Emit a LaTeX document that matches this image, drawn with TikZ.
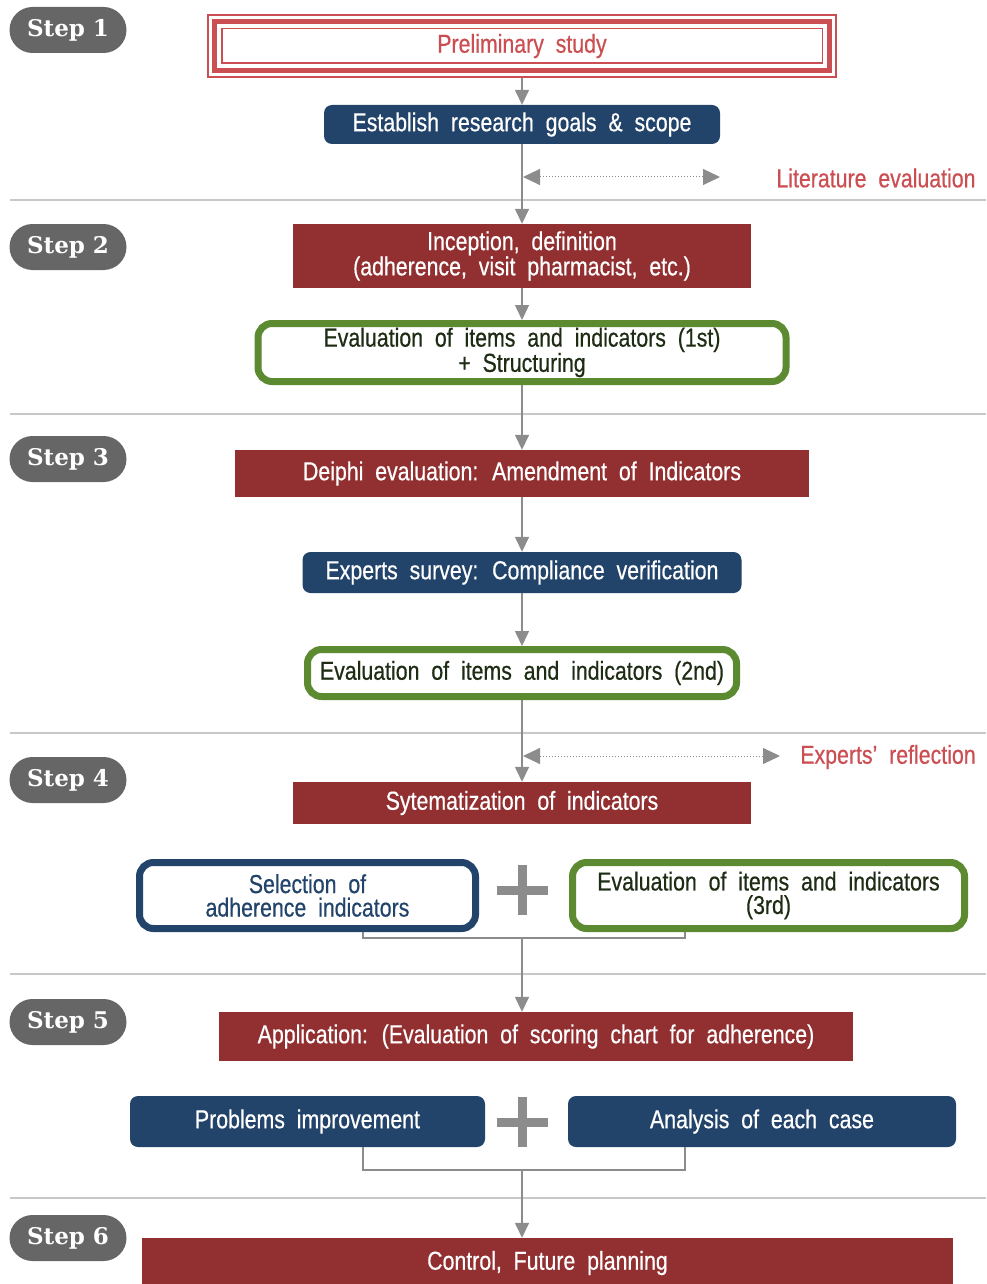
\documentclass[tikz,border=0pt]{standalone}
\usepackage{fontspec}
\setmainfont{Liberation Sans}[FakeStretch=0.82,WordSpace=2,FakeBold=0.5]
\newfontfamily\stepfont{DejaVu Serif}
\usetikzlibrary{arrows.meta,calc}

\definecolor{navy}{HTML}{22436A}
\definecolor{darkred}{HTML}{922F31}
\definecolor{leafgreen}{HTML}{5B8A31}
\definecolor{rosered}{HTML}{CB4F52}
\definecolor{arrowgray}{HTML}{8C8C8C}
\definecolor{sepgray}{HTML}{C8C8C8}
\definecolor{badgegray}{HTML}{666666}
\definecolor{inkgreen}{HTML}{1E2C14}

\tikzset{
  boxtext/.style={font=\fontsize{26}{23.5}\selectfont, align=center, inner sep=0pt},
  stepbadge/.style={fill=badgegray, rounded corners=23pt, minimum width=117pt, minimum height=46pt,
    text=white, font=\stepfont\bfseries\fontsize{23}{23}\selectfont},
  redbox/.style={boxtext, fill=darkred, text=white},
  navybox/.style={boxtext, fill=navy, text=white, rounded corners=8pt},
  greenbox/.style={boxtext, draw=leafgreen, line width=7pt, fill=white, text=inkgreen, rounded corners=14pt},
  navyframe/.style={boxtext, draw=navy, line width=7pt, fill=white, text=navy, rounded corners=14pt},
  flow/.style={draw=arrowgray, line width=1.5pt, -{Triangle[width=14pt,length=15pt]}},
  link/.style={draw=arrowgray, line width=1.2pt},
  dotflow/.style={draw=arrowgray, line width=1pt, dotted,
    {Triangle[width=16pt,length=17pt]}-{Triangle[width=16pt,length=17pt]}},
  sideline/.style={font=\fontsize{26}{26}\selectfont, text=rosered},
  plussign/.style={draw=arrowgray, line width=9pt},
}

\begin{document}
\begin{tikzpicture}[x=1pt,y=1pt,yscale=-1]
\useasboundingbox (0,0) rectangle (986,1284);

% separators
\foreach \sy in {200,414,733,974,1198}
  \draw[sepgray, line width=1.2pt] (10,\sy) -- (986,\sy);

% step badges
\foreach \n/\y in {1/30,2/247,3/459,4/780,5/1022,6/1238}
  \node[stepbadge] (step\n) at (68,\y) {Step \n};

% step 1
\node[sideline, draw=rosered, line width=1.5pt, minimum width=628pt, minimum height=62pt] (prelim) at (522,46) {Preliminary study};
\draw[rosered, line width=5pt] ($(prelim.north west)+(7.5,7.5)$) rectangle ($(prelim.south east)+(-7.5,-7.5)$);
\draw[rosered, line width=1.5pt] ($(prelim.north west)+(14.5,14.5)$) rectangle ($(prelim.south east)+(-14.5,-14.5)$);
\node[navybox, minimum width=396pt, minimum height=39pt] (goals) at (522,124.5) {Establish research goals \& scope};
\coordinate (lit-l) at (523,177);
\coordinate (lit-r) at (720,177);
\node[sideline] (littext) at (876,178) {Literature evaluation};

% step 2
\node[redbox, minimum width=458pt, minimum height=64pt] (inception) at (522,256) {Inception, definition\\(adherence, visit pharmacist, etc.)};
\node[greenbox, minimum width=528pt, minimum height=58pt] (eval1) at (522,352.5) {Evaluation of items and indicators (1st)\\+ Structuring};

% step 3
\node[redbox, minimum width=574pt, minimum height=47pt] (delphi) at (522,473.5) {Deiphi evaluation: Amendment of Indicators};
\node[navybox, minimum width=439pt, minimum height=41pt] (survey) at (522,572.5) {Experts survey: Compliance verification};
\node[greenbox, minimum width=429pt, minimum height=47pt] (eval2) at (522,673) {Evaluation of items and indicators (2nd)};
\coordinate (ref-l) at (523,756);
\coordinate (ref-r) at (780,756);
\node[sideline] (reftext) at (888,757) {Experts’ reflection};

% step 4
\node[redbox, minimum width=458pt, minimum height=42pt] (system) at (522,803) {Sytematization of indicators};
\node[navyframe, minimum width=336pt, minimum height=66pt] (selection) at (307.5,895.5) {Selection of\\adherence indicators};
\node[greenbox, minimum width=392pt, minimum height=66pt] (eval3) at (768.5,895.5) {Evaluation of items and indicators\\(3rd)};
\coordinate (s4l) at (363,938);
\coordinate (s4r) at (685,938);
\coordinate (j4) at (522,938);

% step 5
\node[redbox, minimum width=634pt, minimum height=49pt] (application) at (536,1036.5) {Application: (Evaluation of scoring chart for adherence)};
\node[navybox, minimum width=355pt, minimum height=51pt] (problems) at (307.5,1121.5) {Problems improvement};
\node[navybox, minimum width=388pt, minimum height=51pt] (analysis) at (762,1121.5) {Analysis of each case};
\coordinate (s5l) at (363,1170);
\coordinate (s5r) at (685,1170);
\coordinate (j5) at (522,1170);

% step 6
\node[redbox, minimum width=811pt, minimum height=50pt] (control) at (547.5,1263) {Control, Future planning};

% plus signs
\foreach \py in {890,1122} {
  \draw[plussign] (497,\py) -- (548,\py);
  \draw[plussign] (522,\py-25) -- (522,\py+25);
}

% connectors
\draw[flow] (prelim.south) -- (goals.north);
\draw[flow] (goals.south) -- (inception.north);
\draw[dotflow] (lit-l) -- (lit-r);
\draw[flow] (inception.south) -- (eval1.north);
\draw[flow] (eval1.south) -- (delphi.north);
\draw[flow] (delphi.south) -- (survey.north);
\draw[flow] (survey.south) -- (eval2.north);
\draw[flow] (eval2.south) -- (system.north);
\draw[dotflow] (ref-l) -- (ref-r);
\draw[link] (selection.south -| s4l) -- (s4l) -- (s4r) -- (eval3.south -| s4r);
\draw[flow] (j4) -- (j4 |- application.north);
\draw[link] (problems.south -| s5l) -- (s5l) -- (s5r) -- (analysis.south -| s5r);
\draw[flow] (j5) -- (j5 |- control.north);
\end{tikzpicture}
\end{document}
